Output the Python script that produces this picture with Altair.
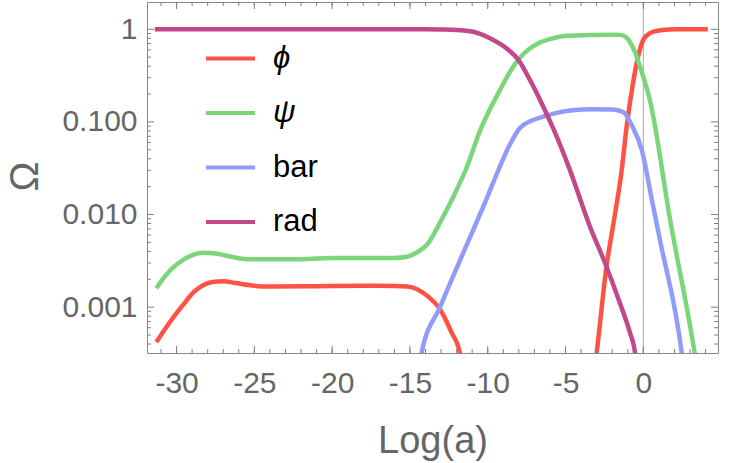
import altair as alt
import pandas as pd

# ---------------- data ----------------
names = ["ϕ", "ψ", "bar", "rad"]
colors = ["#FF5244", "#7BD67A", "#8F9CF8", "#C2488A"]

phi1_x = [-31.3, -30.9, -30.3, -29.6, -28.9, -28.3, -27.6, -27.0, -26.2, -25.2, -24.2,
          -22.0, -20.0, -18.0, -16.0, -15.2, -14.68, -14.3, -13.83, -13.07, -12.32, -11.79, -11.7]
phi1_y = [4.2e-4, 5.3e-4, 7.4e-4, 0.00105, 0.00145, 0.00172, 0.00188, 0.0019, 0.00182,
          0.00172, 0.00167, 0.00168, 0.00169, 0.0017, 0.00169, 0.00167, 0.0016, 0.00148,
          0.0013, 0.00095, 5.3e-4, 3.2e-4, 2.5e-4]
phi2_x = [-3.08, -3.0, -2.35, -1.95, -1.39, -1.07, -0.7, -0.43, 0.0, 0.3, 0.62, 1.2, 2.1, 3.0, 4.15]
phi2_y = [2.5e-4, 3.2e-4, 0.0029, 0.0075, 0.03, 0.09, 0.24, 0.43, 0.77, 0.88, 0.94,
          0.98, 1.0, 1.0, 1.0]

psi_x = [-31.3, -30.8, -30.2, -29.5, -28.9, -28.3, -27.5, -26.5, -25.5, -24.0, -22.0,
         -20.0, -18.0, -16.0, -15.2, -14.68, -13.83, -12.97, -12.1, -11.36, -10.5, -9.22,
         -8.6, -8.04, -7.3, -6.64, -5.8, -4.93, -3.2, -2.0, -1.5, -1.1, -0.86, -0.5, -0.2,
         0.43, 1.72, 3.3, 3.4]
psi_y = [0.0016, 0.0021, 0.0027, 0.0033, 0.0037, 0.00386, 0.0038, 0.0035, 0.0033, 0.0033,
         0.0033, 0.0034, 0.0034, 0.0034, 0.0035, 0.0038, 0.0049, 0.0088, 0.017, 0.032,
         0.08, 0.22, 0.34, 0.47, 0.62, 0.72, 0.8, 0.85, 0.87, 0.875, 0.87, 0.82, 0.73,
         0.55, 0.39, 0.17, 0.0088, 3.2e-4, 2.5e-4]

bar_x = [-14.35, -14.25, -13.07, -11.4, -10.3, -9.32, -8.6, -7.93, -7.2, -6.43, -5.5, -4.7,
         -3.2, -2.0, -1.3, -0.7, -0.1, 0.55, 1.07, 2.47, 2.55]
bar_y = [2.5e-4, 3.2e-4, 0.001, 0.0045, 0.012, 0.03, 0.056, 0.086, 0.103, 0.114, 0.126,
         0.133, 0.137, 0.136, 0.128, 0.089, 0.05, 0.0144, 0.0053, 3.2e-4, 2.5e-4]

rad_x = [-31.4, -25.0, -18.0, -14.0, -13.0, -12.0, -10.93, -9.86, -8.78, -8.04, -7.29,
         -6.43, -5.79, -4.71, -3.43, -2.46, -1.5, -0.86, -0.53, -0.48]
rad_y = [1.0, 1.0, 1.0, 1.0, 0.995, 0.985, 0.94, 0.8, 0.62, 0.47, 0.284, 0.146, 0.085,
         0.03, 0.0074, 0.003, 0.0011, 5.3e-4, 3.2e-4, 2.5e-4]

vline_x = [0]

# axis ranges and tick positions
x_range = [-31.9, 4.8]
y_range = [3.2e-4, 1.97]
x_major = [-30, -25, -20, -15, -10, -5, 0]
x_minor = list(range(-31, 5))
y_major = [0.001, 0.01, 0.1, 1]
y_minor = [4e-4, 5e-4, 6e-4, 7e-4, 8e-4, 9e-4,
           0.002, 0.003, 0.004, 0.005, 0.006, 0.007, 0.008, 0.009,
           0.02, 0.03, 0.04, 0.05, 0.06, 0.07, 0.08, 0.09,
           0.2, 0.3, 0.4, 0.5, 0.6, 0.7, 0.8, 0.9]

# ---------------- table ----------------
rows = []
def add(name, seg, xs, ys):
    for i, (a, b) in enumerate(zip(xs, ys)):
        rows.append({"series": name, "seg": seg, "x": a, "y": b, "i": i})

add("ϕ", "phi1", phi1_x, phi1_y)
add("ϕ", "phi2", phi2_x, phi2_y)
add("ψ", "psi", psi_x, psi_y)
add("bar", "bar", bar_x, bar_y)
add("rad", "rad", rad_x, rad_y)
df = pd.DataFrame(rows)
vdf = pd.DataFrame({"x": vline_x})

FONT = "Liberation Sans"
GRAY = "#666666"
TICK = "#808080"

xscale = alt.Scale(domain=x_range, nice=False, zero=False)
yscale = alt.Scale(type="log", domain=y_range, nice=False)

# one axis definition shared by every layer, so they merge into a single axis
x_axis = alt.Axis(orient="bottom", values=x_major, labelExpr="'' + datum.value",
                  labelFont=FONT, labelFontSize=30, labelColor=GRAY,
                  labelPadding=15, ticks=False, domain=False, grid=False,
                  title="Log(a)", titleFont=FONT, titleFontSize=38,
                  titleColor=GRAY, titleFontWeight="normal",
                  titleY=99, titleBaseline="alphabetic")
y_axis = alt.Axis(orient="left", values=y_major,
                  labelExpr="datum.value >= 1 ? '1' : format(datum.value, '.3f')",
                  labelFont=FONT, labelFontSize=30, labelColor=GRAY,
                  labelPadding=10, ticks=False, domain=False, grid=False,
                  title="Ω", titleFont=FONT, titleFontSize=40,
                  titleColor=GRAY, titleFontWeight="normal",
                  titleX=-122, titleY=174, titleAngle=270,
                  titleAlign="center", titleBaseline="middle")

def X(field):
    return alt.X(field, type="quantitative", scale=xscale, axis=x_axis)

def Y(field):
    return alt.Y(field, type="quantitative", scale=yscale, axis=y_axis)

vrule = alt.Chart(vdf).mark_rule(color="#aaaaaa", strokeWidth=1).encode(x=X("x"))

lines = alt.Chart(df).mark_line(strokeWidth=4.5, interpolate="monotone", clip=True).encode(
    x=X("x"),
    y=Y("y"),
    color=alt.Color("series:N", scale=alt.Scale(domain=names, range=colors),
                    legend=alt.Legend(orient="none", legendX=57, legendY=30, title=None,
                                      symbolType="stroke", symbolSize=2401,
                                      symbolStrokeWidth=4, labelFont=FONT,
                                      labelFontSize=31, labelColor="black",
                                      labelFontStyle={"expr": "datum.label == 'bar' || datum.label == 'rad' ? 'normal' : 'italic'"},
                                      labelOffset=16, rowPadding=12.5, padding=0)),
    detail="seg:N",
    order="i:Q",
)

# frame ticks (inward), placed on the frame edges through the scales
def xticks(vals, edge, length, shift):
    d = pd.DataFrame({"x": vals, "y": [edge] * len(vals)})
    return alt.Chart(d).mark_tick(orient="vertical", size=length, thickness=1,
                                  color=TICK, opacity=1, yOffset=shift).encode(
        x=X("x"), y=Y("y"))

def yticks(vals, edge, length, shift):
    d = pd.DataFrame({"y": vals, "x": [edge] * len(vals)})
    return alt.Chart(d).mark_tick(orient="horizontal", size=length, thickness=1,
                                  color=TICK, opacity=1, xOffset=shift).encode(
        x=X("x"), y=Y("y"))

chart = alt.layer(
    vrule,
    lines,
    xticks(x_major, y_range[0], 7, -3.5),
    xticks(x_minor, y_range[0], 4, -2),
    xticks(x_major, y_range[1], 7, 3.5),
    xticks(x_minor, y_range[1], 4, 2),
    yticks(y_major, x_range[0], 7, 3.5),
    yticks(y_minor, x_range[0], 4, 2),
    yticks(y_major, x_range[1], 7, -3.5),
    yticks(y_minor, x_range[1], 4, -2),
).properties(
    width=571, height=351,
    autosize=alt.AutoSizeParams(type="none"),
    padding={"left": 147, "top": 2, "right": 12, "bottom": 110},
).configure_view(stroke="#888888", strokeWidth=1)

chart.save("out.html", embed_options={"renderer": "svg", "actions": False})
